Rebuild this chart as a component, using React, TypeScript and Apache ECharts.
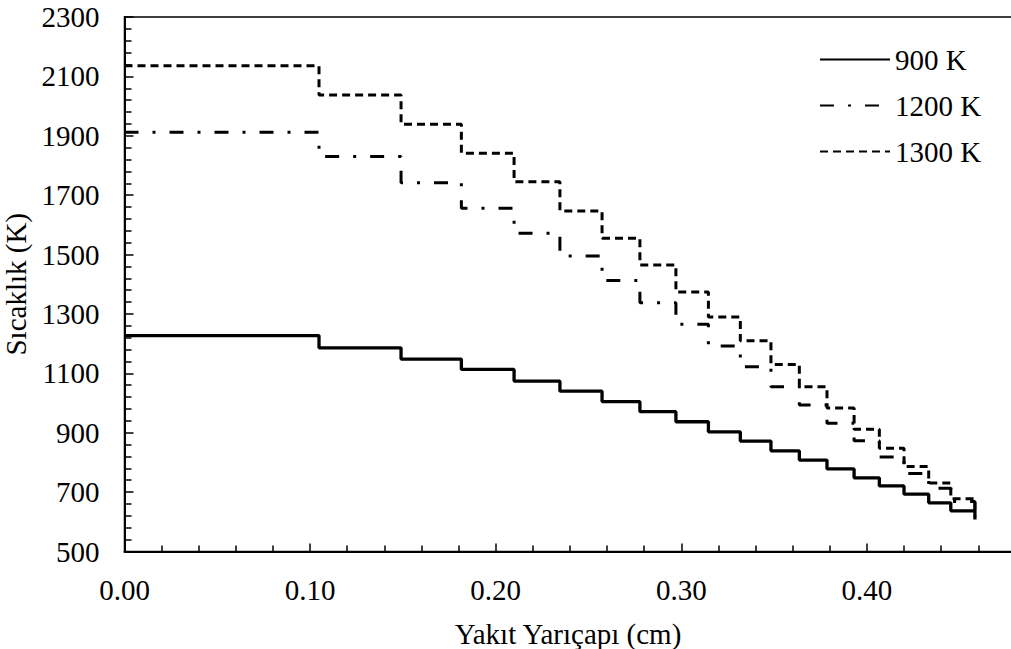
import React, { useEffect, useRef } from "react";
import * as echarts from "echarts";

// Radial positions (cm): centre and ring boundaries, last value = fuel surface
const radius = [0, 0.1048, 0.149, 0.1815, 0.2099, 0.2346, 0.2573, 0.2777, 0.2971, 0.3146, 0.3318, 0.3483, 0.3636, 0.3785, 0.3931, 0.4067, 0.42, 0.4333, 0.4452, 0.4582];

// Temperatures (K) per ring; last value is the surface temperature
const t900 = [1227, 1186, 1148, 1113, 1074, 1040, 1005, 971, 937, 903, 872, 839, 808, 778, 748, 721, 693, 664, 637, 608];
const t1200 = [1912, 1830, 1742, 1656, 1572, 1495, 1413, 1338, 1265, 1192, 1122, 1055, 993, 932, 873, 818, 763, 713, 668, 615];
const t1300 = [2136, 2037, 1939, 1841, 1745, 1647, 1555, 1465, 1374, 1290, 1210, 1130, 1055, 983, 912, 848, 786, 731, 678, 618];

const seriesNames = ["900 K", "1200 K", "1300 K"];
const xTitle = "Yakıt Yarıçapı (cm)";
const yTitle = "Sıcaklık (K)";

const FONT = "Liberation Serif";
const FS = 29;

export default function App() {
  const ref = useRef<HTMLDivElement>(null);
  useEffect(() => {
    if (!ref.current) return;
    const chart = echarts.init(ref.current, undefined, { renderer: "svg" });
    const pairs = (ys: number[]) => radius.map((x, i) => [x, ys[i]]);
    const X0 = 124.5;
    const PX_PER_CM = 1856;
    chart.setOption({
      animation: false,
      backgroundColor: "#fff",
      textStyle: { fontFamily: FONT },
      grid: {
        left: X0,
        top: 17,
        width: 0.5 * PX_PER_CM,
        height: 534.5,
        show: true,
        borderColor: "#000",
        borderWidth: 1.5,
        containLabel: false,
        outerBoundsMode: "none",
      },
      legend: {
        data: seriesNames,
        orient: "vertical",
        left: 819,
        top: 45,
        itemWidth: 70,
        itemHeight: 14,
        itemGap: 17,
        padding: 0,
        itemStyle: { color: "rgba(0,0,0,0)", borderWidth: 0 },
        textStyle: { fontFamily: FONT, fontSize: FS, color: "#000" },
      },
      xAxis: {
        type: "value",
        min: 0,
        max: 0.5,
        interval: 0.1,
        axisLine: { show: true, lineStyle: { color: "#000", width: 2 } },
        axisTick: { show: true, inside: true, length: 8, lineStyle: { color: "#000", width: 1.5 } },
        minorTick: { show: true, splitNumber: 5, length: 6, lineStyle: { color: "#000", width: 1.5 } },
        splitLine: { show: false },
        axisLabel: {
          showMaxLabel: false,
          margin: 24,
          fontFamily: FONT,
          fontSize: FS,
          color: "#000",
          formatter: (v: number) => v.toFixed(2),
        },
      },
      yAxis: {
        type: "value",
        min: 500,
        max: 2300,
        interval: 200,
        name: yTitle,
        nameLocation: "middle",
        nameGap: 87,
        nameTextStyle: { fontFamily: FONT, fontSize: FS, color: "#000" },
        axisLine: { show: true, lineStyle: { color: "#000", width: 2 } },
        axisTick: { show: true, inside: true, length: 9, lineStyle: { color: "#000", width: 1.5 } },
        minorTick: { show: true, splitNumber: 5, length: 7, lineStyle: { color: "#000", width: 1.5 } },
        splitLine: { show: false },
        axisLabel: {
          margin: 25,
          fontFamily: FONT,
          fontSize: FS,
          color: "#000",
          formatter: (v: number) => String(v),
        },
      },
      graphic: [
        {
          type: "text",
          x: 568,
          y: 634,
          style: {
            text: xTitle,
            textAlign: "center",
            textVerticalAlign: "middle",
            fontFamily: FONT,
            fontSize: FS,
            fill: "#000",
          },
        },
      ],
      series: [
        {
          name: seriesNames[0],
          type: "line",
          step: "end",
          symbol: "none",
          data: pairs(t900),
          itemStyle: { color: "#000" },
          lineStyle: { color: "#000", width: 3.3, type: "solid" },
          z: 3,
        },
        {
          name: seriesNames[1],
          type: "line",
          step: "end",
          symbol: "none",
          data: pairs(t1200),
          itemStyle: { color: "#000" },
          lineStyle: { color: "#000", width: 3, type: [14, 14, 3, 14], cap: "butt" },
          z: 2,
        },
        {
          name: seriesNames[2],
          type: "line",
          step: "end",
          symbol: "none",
          data: pairs(t1300),
          itemStyle: { color: "#000" },
          lineStyle: { color: "#000", width: 3, type: [8, 5], cap: "butt" },
          z: 2,
        },
      ],
    });
    return () => chart.dispose();
  }, []);
  return (
    <div
      ref={ref}
      style={{ position: "absolute", left: 0, top: 0, width: 1011, height: 649 }}
    />
  );
}
